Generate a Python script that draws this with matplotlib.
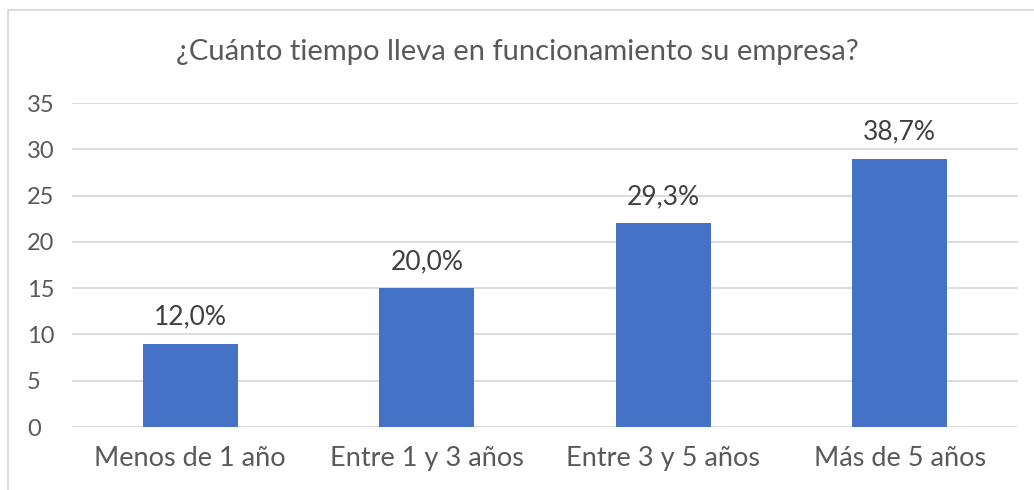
import matplotlib
matplotlib.use("Agg")
import matplotlib.pyplot as plt
from matplotlib.patches import Rectangle

categories = ["Menos de 1 año", "Entre 1 y 3 años", "Entre 3 y 5 años", "Más de 5 años"]
values = [9, 15, 22, 29]
labels = ["12,0%", "20,0%", "29,3%", "38,7%"]
yticks = [0, 5, 10, 15, 20, 25, 30, 35]

plt.rcParams['font.family'] = ['Lato', 'DejaVu Sans']

W, H = 1034, 490
fig = plt.figure(figsize=(W / 100, H / 100), dpi=100)
ax = fig.add_axes([72 / W, (H - 427) / H, (1018 - 72) / W, (427 - 103) / H])

x = list(range(len(categories)))
ax.bar(x, values, width=0.4, color="#4472C4", zorder=3)
ax.set_xlim(-0.5, len(categories) - 0.5)
ax.set_ylim(0, 35)
ax.set_yticks(yticks)
ax.set_xticks(x)
ax.set_xticklabels(categories)
ax.grid(axis="y", color="#D9D9D9", linewidth=1.3, zorder=0)
for s in ax.spines.values():
    s.set_visible(False)
ax.tick_params(axis="x", length=0, labelsize=19.5, colors="#595959", pad=14)
ax.tick_params(axis="y", length=0, labelsize=17, colors="#595959", pad=32.4)
for lab in ax.get_yticklabels():
    lab.set_horizontalalignment("left")

for xi, v, t in zip(x, values, labels):
    ax.annotate(t, (xi, v), xytext=(0, 10), textcoords="offset points",
                ha="center", va="bottom", fontsize=19, color="#404040")

fig.text(0.5, 1 - 52 / H, "¿Cuánto tiempo lleva en funcionamiento su empresa?",
         ha="center", va="center", fontsize=21, color="#595959")

fig.patches.append(Rectangle((8 / W, -0.1), 1.2, 1.1 - 10 / H, transform=fig.transFigure,
                             fill=False, edgecolor="#D9D9D9", linewidth=1.3))

fig.savefig("out.png", dpi=100)
